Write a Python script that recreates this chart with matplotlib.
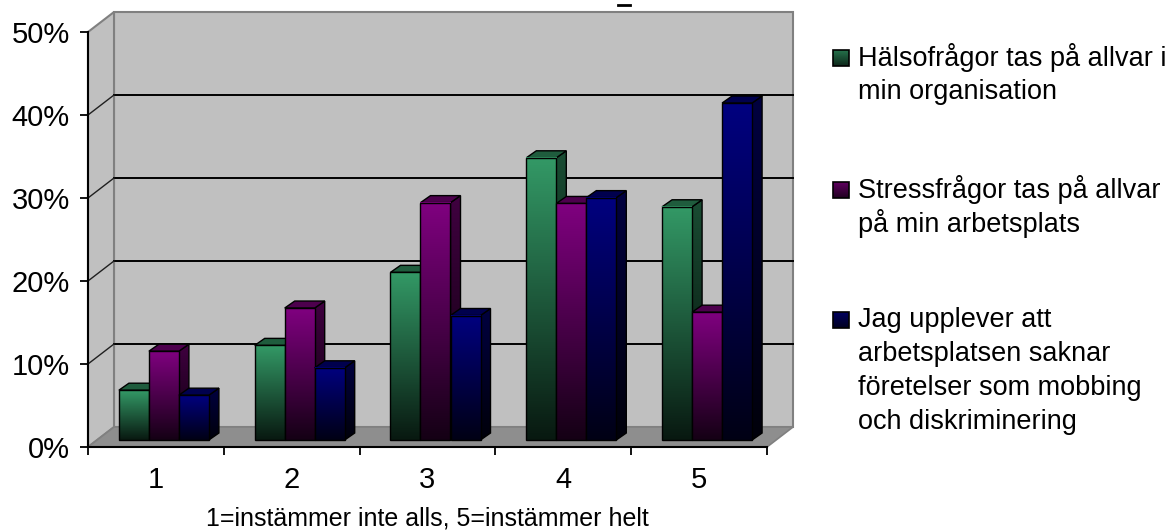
import numpy as np
import matplotlib
matplotlib.use("Agg")
import matplotlib.pyplot as plt
from matplotlib.patches import Polygon, Rectangle
from matplotlib.lines import Line2D

plt.rcParams['font.family'] = ['Liberation Sans', 'DejaVu Sans']

# ---- data -------------------------------------------------------------
categories = ["1", "2", "3", "4", "5"]
series_names = [
    "Hälsofrågor tas på allvar i\nmin organisation",
    "Stressfrågor tas på allvar\npå min arbetsplats",
    "Jag upplever att\narbetsplatsen saknar\nföretelser som mobbing\noch diskriminering",
]
halsa = [6.0, 11.4, 20.2, 34.0, 28.1]
stress = [10.7, 15.9, 28.6, 28.5, 15.4]
mobbing = [5.4, 8.7, 15.0, 29.2, 40.6]
series_values = [halsa, stress, mobbing]
series_colors = [(0.20, 0.60, 0.40), (0.50, 0.0, 0.50), (0.0, 0.0, 0.50)]
yticks = [0, 10, 20, 30, 40, 50]
ytick_labels = ["0%", "10%", "20%", "30%", "40%", "50%"]
xlabel = "1=instämmer inte alls, 5=instämmer helt"

# ---- figure / axes ------------------------------------------------------
W, H = 1171, 532
fig = plt.figure(figsize=(W / 100, H / 100), dpi=100)
fig.patch.set_facecolor("white")
ax = fig.add_axes([88 / W, (H - 447) / H, (767 - 88) / W, 415 / H])
ax.set_facecolor("none")

xmin, xmax, ymin, ymax = 0.5, 5.5, 0, 50
px_x = (767 - 88) / 5.0      # pixels per category
px_y = 415 / 50.0            # pixels per percent

# perspective offsets (in data units)
DXW, DYW = 26 / px_x, 20 / px_y     # wall depth
BX, BY = 8 / px_x, 7 / px_y         # bar plane offset from front
DDX, DDY = 10 / px_x, 7 / px_y      # bar depth
bw = 30 / px_x                      # bar width

wall_c = "#c0c0c0"
edge_c = "#808080"

# back wall
ax.add_patch(Polygon([(xmin + DXW, ymin + DYW), (xmax + DXW, ymin + DYW),
                      (xmax + DXW, ymax + DYW), (xmin + DXW, ymax + DYW)],
                     closed=True, fc=wall_c, ec=edge_c, lw=1.5, clip_on=False, zorder=1))
# side wall
ax.add_patch(Polygon([(xmin, ymin), (xmin + DXW, ymin + DYW),
                      (xmin + DXW, ymax + DYW), (xmin, ymax)],
                     closed=True, fc=wall_c, ec=edge_c, lw=1.5, clip_on=False, zorder=1))
# floor
ax.add_patch(Polygon([(xmin, ymin), (xmax, ymin), (xmax + DXW, ymin + DYW), (xmin + DXW, ymin + DYW)],
                     closed=True, fc="#8e8e8e", ec=edge_c, lw=1.2, clip_on=False, zorder=1.5))

# gridlines on back and side wall
for v in yticks[1:-1]:
    ax.add_line(Line2D([xmin + DXW, xmax + DXW], [v + DYW, v + DYW], color="black",
                       lw=1.4, clip_on=False, zorder=2))
    ax.add_line(Line2D([xmin, xmin + DXW], [v, v + DYW], color="#202020",
                       lw=1.0, clip_on=False, zorder=2))


def grad(color, n=128, top=1.0, bottom=0.16):
    f = np.linspace(top, bottom, n)[:, None, None]
    return np.clip(np.array(color)[None, None, :] * f, 0, 1)


z = 3
for gi in range(len(categories)):
    cx = gi + 1 + BX
    for si, vals in enumerate(series_values):
        v = vals[gi]
        col = series_colors[si]
        x0 = cx + (si - 1.5) * bw
        x1 = x0 + bw
        y0 = ymin + BY
        y1 = y0 + v
        # side face
        side = Polygon([(x1, y0), (x1 + DDX, y0 + DDY), (x1 + DDX, y1 + DDY), (x1, y1)],
                       closed=True, fc="none", ec="black", lw=1.0, zorder=z + 0.2)
        ax.add_patch(side)
        im = ax.imshow(grad(col, top=0.5, bottom=0.08), extent=[x1, x1 + DDX, y0, y1 + DDY],
                       aspect="auto", origin="upper", interpolation="bilinear", zorder=z + 0.1)
        im.set_clip_path(side)
        # top face
        ax.add_patch(Polygon([(x0, y1), (x1, y1), (x1 + DDX, y1 + DDY), (x0 + DDX, y1 + DDY)],
                             closed=True, fc=tuple(c * 0.6 for c in col), ec="black",
                             lw=1.0, zorder=z + 0.3))
        # front face
        ax.imshow(grad(col), extent=[x0, x1, y0, y1], aspect="auto", origin="upper",
                  interpolation="bilinear", zorder=z + 0.4)
        ax.add_patch(Rectangle((x0, y0), bw, v, fc="none", ec="black", lw=1.0, zorder=z + 0.5))
        z += 1

ax.set_xlim(xmin, xmax)
ax.set_ylim(ymin, ymax)

# axes lines and ticks
for s in ["top", "right"]:
    ax.spines[s].set_visible(False)
for s in ["left", "bottom"]:
    ax.spines[s].set_color("black")
    ax.spines[s].set_linewidth(1.5)
    ax.spines[s].set_zorder(200)

ax.set_yticks(yticks)
ax.set_yticklabels(ytick_labels, fontsize=21)
ax.tick_params(axis="y", direction="out", length=6, width=1.3, pad=7)

ax.set_xticks(np.arange(0.5, 6.0, 1.0))
ax.set_xticklabels([])
ax.set_xticks(np.arange(1, 6), minor=True)
ax.set_xticklabels(categories, minor=True, fontsize=21)
ax.tick_params(axis="x", which="major", direction="out", length=6, width=1.3)
ax.tick_params(axis="x", which="minor", length=0, pad=14)
ax.set_xlabel(xlabel, fontsize=18, labelpad=9)

# ---- legend -------------------------------------------------------------
lax = fig.add_axes([0, 0, 1, 1])
lax.set_xlim(0, W)
lax.set_ylim(H, 0)
lax.axis("off")
lax.patch.set_alpha(0)

leg_rows = [58, 190, 320]
line_h = 34
sq = 16
for name, col, yc in zip(series_names, series_colors, leg_rows):
    lax.imshow(grad(col, top=0.75, bottom=0.25), extent=[833, 833 + sq, yc + sq / 2, yc - sq / 2],
               aspect="auto", origin="upper", interpolation="bilinear", zorder=5)
    lax.add_patch(Rectangle((833, yc - sq / 2), sq, sq, fc="none", ec="black", lw=1.2, zorder=6))
    for li, line in enumerate(name.split("\n")):
        lax.text(858, yc + li * line_h, line, fontsize=19.5, va="center", ha="left")

lax.set_xlim(0, W)
lax.set_ylim(H, 0)
lax.add_line(Line2D([618, 630], [5, 5], color="black", lw=2))

fig.savefig("out.png", dpi=100)
